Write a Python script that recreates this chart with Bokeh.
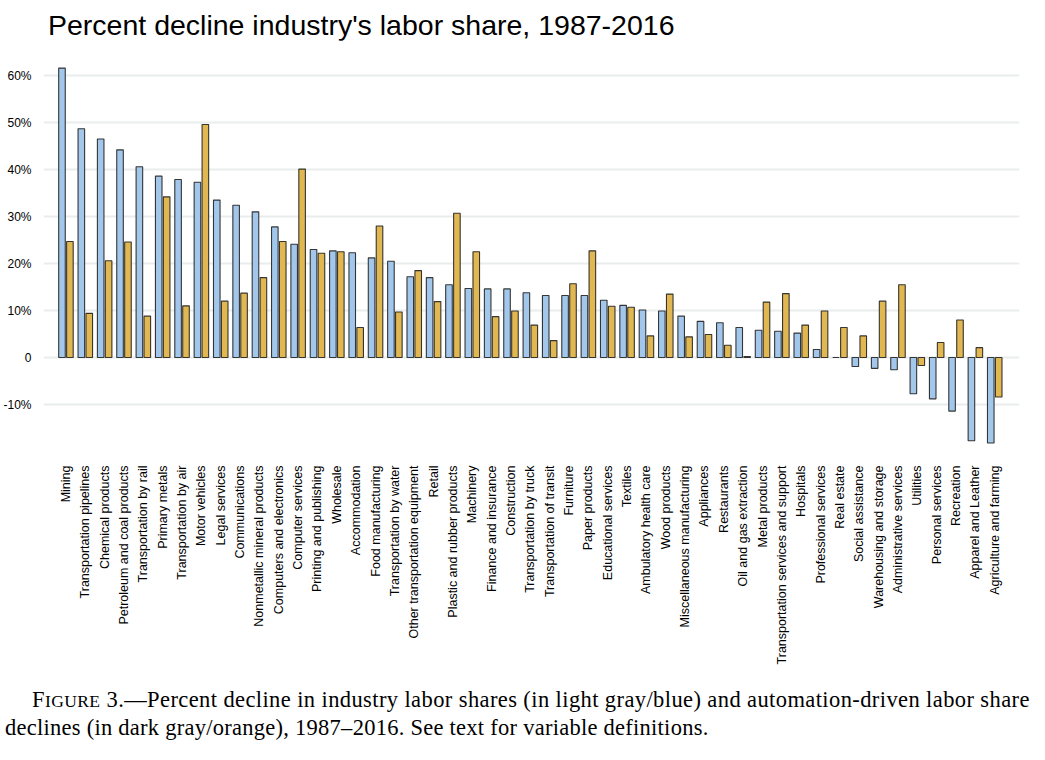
import numpy as np
from bokeh.plotting import figure
from bokeh.models import ColumnDataSource, Range1d, FixedTicker, Div
from bokeh.layouts import column
from bokeh.embed import file_html
from bokeh.resources import INLINE

categories = [
    "Mining", "Transportation pipelines", "Chemical products", "Petroleum and coal products",
    "Transportation by rail", "Primary metals", "Transportation by air", "Motor vehicles",
    "Legal services", "Communications", "Nonmetallic mineral products", "Computers and electronics",
    "Computer services", "Printing and publishing", "Wholesale", "Accommodation",
    "Food manufacturing", "Transportation by water", "Other transportation equipment", "Retail",
    "Plastic and rubber products", "Machinery", "Finance and insurance", "Construction",
    "Transportation by truck", "Transportation of transit", "Furniture", "Paper products",
    "Educational services", "Textiles", "Ambulatory health care", "Wood products",
    "Miscellaneous manufacturing", "Appliances", "Restaurants", "Oil and gas extraction",
    "Metal products", "Transportation services and support", "Hospitals", "Professional services",
    "Real estate", "Social assistance", "Warehousing and storage", "Administrative services",
    "Utilities", "Personal services", "Recreation", "Apparel and Leather", "Agriculture and farming",
]

labor_share_decline = [
    61.6, 48.7, 46.5, 44.2, 40.6, 38.6, 37.9, 37.3, 33.5, 32.4, 31.0, 27.8,
    24.1, 23.0, 22.7, 22.3, 21.2, 20.5, 17.2, 17.0, 15.5, 14.7, 14.6, 14.6,
    13.8, 13.2, 13.2, 13.2, 12.2, 11.1, 10.1, 9.9, 8.8, 7.7, 7.4, 6.4,
    5.8, 5.6, 5.2, 1.7, 0.0, -1.9, -2.3, -2.6, -7.7, -8.8, -11.4, -17.7, -18.2,
]

automation_decline = [
    24.7, 9.4, 20.6, 24.6, 8.8, 34.2, 11.0, 49.6, 12.0, 13.7, 17.0, 24.7,
    40.1, 22.2, 22.5, 6.4, 28.0, 9.7, 18.5, 11.9, 30.7, 22.5, 8.7, 9.9,
    6.9, 3.6, 15.7, 22.7, 10.9, 10.7, 4.6, 13.5, 4.4, 4.9, 2.6, 0.2,
    11.8, 13.6, 6.9, 9.9, 6.4, 4.6, 12.0, 15.5, -1.7, 3.2, 8.0, 2.1, -8.4,
]

y_ticks = [-10, 0, 10, 20, 30, 40, 50, 60]
y_tick_labels = ["-10%", "0", "10%", "20%", "30%", "40%", "50%", "60%"]

BLUE = "#a3c7ea"
ORANGE = "#e0b751"

idx = np.arange(len(categories))
src = ColumnDataSource(dict(
    xb=idx - 0.205, xo=idx + 0.205,
    blue=labor_share_decline, orange=automation_decline,
    cat=categories,
))

title_div = Div(
    text=('<div style="font-family:\'Liberation Sans\',Arial,sans-serif;font-size:28.5px;'
          'color:#000;white-space:nowrap;padding-left:48px;padding-top:5px;">'
          "Percent decline industry's labor share, 1987-2016</div>"),
    width=1029, height=40, margin=(0, 0, 0, 0))

p = figure(width=1029, height=627, output_backend="svg", toolbar_location=None,
           title_location=None,
           x_range=Range1d(-1.16, len(categories) - 1 + 1.28),
           y_range=Range1d(-20, 63),
           min_border_left=37, min_border_right=10, min_border_top=21,
           min_border_bottom=0)

p.vbar(x="xb", top="blue", bottom=0, width=0.34, source=src,
       fill_color=BLUE, line_color="#222222", line_width=1.1, line_alpha=0.9)
p.vbar(x="xo", top="orange", bottom=0, width=0.34, source=src,
       fill_color=ORANGE, line_color="#222222", line_width=1.1, line_alpha=0.9)

p.outline_line_color = None
p.background_fill_color = "white"

xa = p.xaxis[0]
xa.ticker = FixedTicker(ticks=list(idx))
xa.major_label_overrides = {int(i): c for i, c in zip(idx, categories)}
xa.major_label_orientation = np.pi / 2
xa.major_label_text_font = "Liberation Sans"
xa.major_label_text_font_size = "12.5px"
xa.major_label_text_color = "#000000"
xa.major_label_standoff = 8
xa.axis_line_color = None
xa.major_tick_line_color = None
xa.minor_tick_line_color = None

ya = p.yaxis[0]
ya.ticker = FixedTicker(ticks=y_ticks)
ya.major_label_overrides = {t: l for t, l in zip(y_ticks, y_tick_labels)}
ya.major_label_text_font = "Liberation Sans"
ya.major_label_text_font_size = "12px"
ya.major_label_text_color = "#000000"
ya.major_label_standoff = 6
ya.axis_line_color = None
ya.major_tick_line_color = None
ya.minor_tick_line_color = None

p.xgrid.grid_line_color = None
p.ygrid.grid_line_color = "#e9eded"
p.ygrid.grid_line_width = 2

caption = Div(
    text=('<div style="font-family:\'Liberation Serif\',serif;font-size:22.5px;line-height:25.5px;'
          'letter-spacing:0.26px;color:#000;white-space:nowrap;margin-left:5px;">'
          '<div style="padding-left:27px;letter-spacing:0.4px;">F<span style="font-size:0.78em;">IGURE</span> 3.—Percent decline '
          'in industry labor shares (in light gray/blue) and automation-driven labor share</div>'
          '<div>declines (in dark gray/orange), 1987–2016. See text for variable definitions.</div>'
          '</div>'),
    width=1029, height=58, margin=(20, 0, 0, 0))

layout = column(title_div, p, caption, spacing=0)
open("out.html", "w").write(file_html(layout, INLINE))
